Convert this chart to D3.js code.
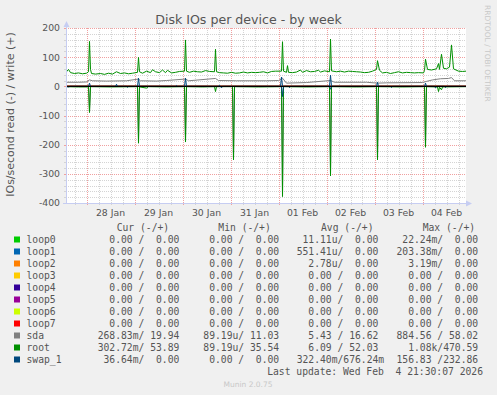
<!DOCTYPE html>
<html>
<head>
<meta charset="utf-8">
<script src="https://cdn.jsdelivr.net/npm/d3@7"></script>
<style>
  body { margin: 0; background: #f0f0f0; }
  text { font-family: "DejaVu Sans", sans-serif; fill: #555; }
  .mono { font-family: "DejaVu Sans Mono", monospace; white-space: pre; }
</style>
</head>
<body>
<script>
// Data: [hours since 28 Jan 00:00 UTC, IOs/second]; reads are plotted negative
const rootWrite = [[-10.25, 48], [-9, 58], [-8, 47], [-6, 44], [-4, 46], [-2, 43], [0, 45], [1, 50], [1.5, 154], [2, 58], [2.5, 44],
  [4.5, 42], [7, 44], [9, 41], [11, 45], [13, 42], [15, 50], [17, 44], [19, 46], [21, 43], [23, 45], [25.5, 48], [26, 99], [26.5, 50],
  [28, 45], [30, 52], [32, 47], [33, 57], [34.5, 50], [36.5, 47], [38, 56], [39.5, 47], [40.5, 55], [42.5, 46], [44.5, 48], [46.5, 51],
  [49, 52], [49.5, 159], [50, 52], [51.5, 48], [53.5, 52], [55.5, 50], [57.5, 49], [59.5, 54], [61.5, 51], [64, 50], [64.5, 127], [65, 50],
  [66.5, 47], [68.5, 46], [70.5, 45], [72.5, 48], [74.5, 45], [76.5, 46], [78.5, 49], [80.5, 46], [82.5, 48], [84.5, 47], [86.5, 48],
  [88.5, 50], [90.5, 46], [92.5, 51], [94.5, 52], [97.5, 52], [98, 153], [98.5, 52], [100, 48], [100.5, 71], [101, 48], [103, 47],
  [105, 49], [107, 56], [108, 48], [110, 54], [112, 50], [114, 51], [116, 55], [117, 49], [119, 53], [121.5, 50], [122, 162], [122.5, 53],
  [125, 50], [127, 52], [129, 49], [131, 52], [133, 51], [135, 50], [137, 49], [139, 47], [141, 48], [143, 52], [145, 58], [145.5, 88],
  [146.5, 55], [148, 46], [150, 48], [152, 44], [154, 47], [156, 50], [158, 46], [160, 48], [162, 47], [164, 46], [166, 47], [168.5, 46],
  [169, 54], [169.5, 93], [170.5, 58], [172.5, 56], [175, 60], [176, 78], [176.5, 58], [177.5, 110], [178.5, 62], [180, 60], [181.5, 66],
  [182.5, 142], [183.5, 60], [186, 52], [188, 51], [189.75, 52]];
const rootRead = [[-10.25, 1], [-4, 2], [1, 2], [1.5, 90], [2, 1], [12, 2], [25.5, 1], [26, 195], [26.5, 2], [30, 6], [31, 1], [40, 2],
  [49, 1], [49.5, 191], [50, 1], [58, 2], [64, 1], [64.5, 18], [65, 1], [73, 1], [73.5, 252], [74, 1], [86, 2], [97.5, 1], [98, 378],
  [98.5, 1], [110, 2], [121.5, 1], [122, 307], [122.5, 1], [135, 2], [145, 1], [145.5, 252], [146, 1], [158, 2], [169, 1], [169.5, 209],
  [170, 1], [175.5, 2], [176, 18], [176.5, 3], [177.5, 12], [178, 2], [189.75, 1]];
const sdaWrite = [[-10.25, 14], [-4, 14], [0, 15], [1.5, 22], [3, 19], [10, 18], [20, 19], [26, 25], [27, 19], [35, 18], [40, 20],
  [49.5, 25], [51, 19], [64.5, 27], [66, 20], [75, 19], [90, 19], [96, 20], [98, 28], [100, 11], [110, 13], [122, 20], [124, 14],
  [140, 14], [145.5, 11], [150, 12], [168, 13], [170, 17], [173, 22], [177, 26], [181, 27], [182.5, 30], [184, 19], [189.75, 19]];
const sdaRead = [[-10.25, 1], [1, 1], [1.5, 85], [2, 1], [25.5, 1], [26, 190], [26.5, 1], [49, 1], [49.5, 185], [50, 1], [73, 1],
  [73.5, 248], [74, 1], [97.5, 1], [98, 370], [98.5, 1], [121.5, 1], [122, 300], [122.5, 1], [145, 1], [145.5, 248], [146, 1],
  [169, 1], [169.5, 205], [170, 1], [189.75, 1]];
const swapWrite = [[-10.25, 0], [1, 0], [1.5, 11], [2, 0], [14.5, 0], [15, 7], [15.5, 0], [25.5, 0], [26, 28], [26.5, 0], [44.5, 0],
  [45, 3], [45.5, 0], [49, 0], [49.5, 28], [50, 0], [66, 0], [66.5, 4], [67, 0], [97, 0], [97.5, 32], [98, 0], [121.5, 0], [122, 38],
  [122.5, 0], [145, 0], [145.5, 14], [146, 0], [169, 0], [169.5, 11], [170, 0], [189.75, 0]];
const swapRead = [[-10.25, 0], [-9, 2], [-8, 0], [20, 0], [20.5, 3], [21, 0], [67, 0], [67.5, 5], [68, 0], [97.5, 0], [98, 35],
  [98.5, 0], [101, 0], [101.5, 4], [102, 0], [121.5, 0], [122, 10], [122.5, 0], [152, 0], [152.5, 4], [153, 0], [174, 0], [174.5, 5],
  [175, 0], [179, 0], [179.5, 4], [180, 0], [189.75, 0]];
const loopFlat = [[-10.25, 0], [189.75, 0]];

const names = ['loop0', 'loop1', 'loop2', 'loop3', 'loop4', 'loop5', 'loop6', 'loop7', 'sda', 'root', 'swap_1'];
const colors = ['#00cc00', '#0066b3', '#ff8000', '#ffcc00', '#330099', '#990099', '#ccff00', '#ff0000', '#808080', '#008f00', '#00487d'];
const curVals = ['  0.00 /  0.00', '  0.00 /  0.00', '  0.00 /  0.00', '  0.00 /  0.00', '  0.00 /  0.00', '  0.00 /  0.00',
  '  0.00 /  0.00', '  0.00 /  0.00', '268.83m/ 19.94', '302.72m/ 53.89', ' 36.64m/  0.00'];
const minVals = ['  0.00 /  0.00', '  0.00 /  0.00', '  0.00 /  0.00', '  0.00 /  0.00', '  0.00 /  0.00', '  0.00 /  0.00',
  '  0.00 /  0.00', '  0.00 /  0.00', ' 89.19u/ 11.03', ' 89.19u/ 35.54', '  0.00 /  0.00'];
const avgVals = [' 11.11u/  0.00', '551.41u/  0.00', '  2.78u/  0.00', '  0.00 /  0.00', '  0.00 /  0.00', '  0.00 /  0.00',
  '  0.00 /  0.00', '  0.00 /  0.00', '  5.43 / 16.62', '  6.09 / 52.03', '322.40m/676.24m'];
const maxVals = [' 22.24m/  0.00', '203.38m/  0.00', '  3.19m/  0.00', '  0.00 /  0.00', '  0.00 /  0.00', '  0.00 /  0.00',
  '  0.00 /  0.00', '  0.00 /  0.00', '884.56 / 58.02', '  1.08k/470.59', '156.83 /232.86'];
const yTicks = [-400, -300, -200, -100, 0, 100, 200];

// series in munin draw order: [write, read] per device
const series = [loopFlat, loopFlat, loopFlat, loopFlat, loopFlat, loopFlat, loopFlat, loopFlat]
  .map(d => [d, d])
  .concat([[sdaWrite, sdaRead], [rootWrite, rootRead], [swapWrite, swapRead]]);

const plot = {left: 66, top: 28, width: 400, height: 175};
const base = Date.UTC(2026, 0, 28);
const toDate = h => new Date(base + h * 3600e3);

const svg = d3.select('body')
  .append('svg')
  .attr('width', 497)
  .attr('height', 395);

const x = d3.scaleUtc()
  .domain([toDate(-10.25), toDate(189.75)])
  .range([plot.left, plot.left + plot.width]);

const y = d3.scaleLinear()
  .domain([-400, 200])
  .range([plot.top + plot.height, plot.top]);

// plot background
svg.append('rect')
  .attr('x', plot.left).attr('y', plot.top)
  .attr('width', plot.width).attr('height', plot.height)
  .attr('fill', '#fff');

// grid
const grid = svg.append('g').attr('shape-rendering', 'crispEdges');
const bottom = plot.top + plot.height;
d3.range(-400, 201, 20).forEach(v => {
  const major = v % 100 === 0;
  const yy = Math.round(y(v)) + 0.5;
  grid.append('line')
    .attr('x1', plot.left).attr('x2', plot.left + plot.width)
    .attr('y1', yy).attr('y2', yy)
    .attr('stroke', major ? '#f0a0a0' : '#d4d4d4')
    .attr('stroke-dasharray', '1,1');
  grid.append('line')
    .attr('x1', plot.left - 2).attr('x2', plot.left)
    .attr('y1', yy).attr('y2', yy)
    .attr('stroke', major ? '#f0a0a0' : '#d4d4d4');
});
d3.utcHour.every(6).range(x.domain()[0], x.domain()[1]).forEach(t => {
  const major = t.getUTCHours() === 0;
  const xx = Math.round(x(t)) + 0.5;
  grid.append('line')
    .attr('x1', xx).attr('x2', xx)
    .attr('y1', plot.top).attr('y2', bottom)
    .attr('stroke', major ? '#f0a0a0' : '#d4d4d4')
    .attr('stroke-dasharray', '1,1');
  grid.append('line')
    .attr('x1', xx).attr('x2', xx)
    .attr('y1', bottom).attr('y2', bottom + 2)
    .attr('stroke', major ? '#f0a0a0' : '#d4d4d4');
});

// lines
svg.append('clipPath').attr('id', 'clip')
  .append('rect')
  .attr('x', plot.left).attr('y', plot.top - 1)
  .attr('width', plot.width).attr('height', plot.height + 1);

const lines = svg.append('g').attr('clip-path', 'url(#clip)');
const writeLine = d3.line().x(d => x(toDate(d[0]))).y(d => y(d[1]));
const readLine = d3.line().x(d => x(toDate(d[0]))).y(d => y(-d[1]));

series.forEach((s, i) => {
  lines.append('path')
    .datum(s[1])
    .attr('d', readLine)
    .attr('fill', 'none')
    .attr('stroke', colors[i])
    .attr('stroke-width', 1);
  lines.append('path')
    .datum(s[0])
    .attr('d', writeLine)
    .attr('fill', 'none')
    .attr('stroke', colors[i])
    .attr('stroke-width', 1);
});

// zero line
lines.append('line')
  .attr('x1', plot.left).attr('x2', plot.left + plot.width)
  .attr('y1', Math.round(y(0)) + 0.5).attr('y2', Math.round(y(0)) + 0.5)
  .attr('stroke', '#000')
  .attr('stroke-width', 1);

// axes
const axisColor = '#c6cdf2';
svg.append('line')
  .attr('x1', plot.left + 0.5).attr('x2', plot.left + 0.5)
  .attr('y1', bottom + 1).attr('y2', plot.top - 4)
  .attr('stroke', axisColor);
svg.append('path')
  .attr('d', `M${plot.left - 2.5},${plot.top - 1}L${plot.left + 0.5},${plot.top - 7}L${plot.left + 3.5},${plot.top - 1}Z`)
  .attr('fill', axisColor);
svg.append('line')
  .attr('x1', plot.left - 3).attr('x2', plot.left + plot.width + 2)
  .attr('y1', bottom + 0.5).attr('y2', bottom + 0.5)
  .attr('stroke', axisColor);
svg.append('path')
  .attr('d', `M${plot.left + plot.width},${bottom - 2.5}L${plot.left + plot.width + 6},${bottom + 0.5}L${plot.left + plot.width},${bottom + 3.5}Z`)
  .attr('fill', axisColor);

// tick labels
svg.append('g').selectAll('text')
  .data(yTicks)
  .enter()
  .append('text')
  .attr('x', 60)
  .attr('y', d => y(d) + 3.4)
  .attr('text-anchor', 'end')
  .attr('font-size', '9.3px')
  .text(d => d);

svg.append('g').selectAll('text')
  .data(d3.utcDay.range(toDate(0), toDate(180)))
  .enter()
  .append('text')
  .attr('x', d => x(d3.utcHour.offset(d, 12)))
  .attr('y', 216)
  .attr('text-anchor', 'middle')
  .attr('font-size', '9.3px')
  .text(d3.utcFormat('%d %b'));

// titles
svg.append('text')
  .attr('x', 248.5).attr('y', 24)
  .attr('text-anchor', 'middle')
  .attr('font-size', '12.6px')
  .text('Disk IOs per device - by week');

svg.append('text')
  .attr('transform', 'translate(13.5,114.5) rotate(-90)')
  .attr('text-anchor', 'middle')
  .attr('font-size', '11px')
  .text('IOs/second read (-) / write (+)');

svg.append('text')
  .attr('transform', 'translate(485,5) rotate(90)')
  .attr('font-size', '7.5px')
  .style('fill', '#c8c8c8')
  .text('RRDTOOL / TOBI OETIKER');

// legend
const legend = svg.append('g').attr('font-size', '9.7px');
[['Cur (-/+)', 116.7], ['Min (-/+)', 218.3], ['Avg (-/+)', 321], ['Max (-/+)', 422.7]].forEach(h => {
  legend.append('text').attr('class', 'mono').attr('x', h[1]).attr('y', 231).text(h[0]);
});

names.forEach((n, i) => {
  const yy = 243 + i * 12;
  legend.append('rect')
    .attr('x', 14).attr('y', yy - 6.5)
    .attr('width', 6).attr('height', 6)
    .attr('fill', colors[i]);
  legend.append('text').attr('class', 'mono').attr('x', 26.5).attr('y', yy).text(n);
  legend.append('text').attr('class', 'mono').attr('x', 97.7).attr('y', yy).text(curVals[i]);
  legend.append('text').attr('class', 'mono').attr('x', 197.5).attr('y', yy).text(minVals[i]);
  legend.append('text').attr('class', 'mono').attr('x', 296.7).attr('y', yy).text(avgVals[i]);
  legend.append('text').attr('class', 'mono').attr('x', 396.5).attr('y', yy).text(maxVals[i]);
});

legend.append('text').attr('class', 'mono')
  .attr('x', 483).attr('y', 375)
  .attr('text-anchor', 'end')
  .text('Last update: Wed Feb  4 21:30:07 2026');

svg.append('text')
  .attr('x', 248).attr('y', 387)
  .attr('text-anchor', 'middle')
  .attr('font-size', '7.5px')
  .style('fill', '#c8c8c8')
  .text('Munin 2.0.75');
</script>
</body>
</html>
